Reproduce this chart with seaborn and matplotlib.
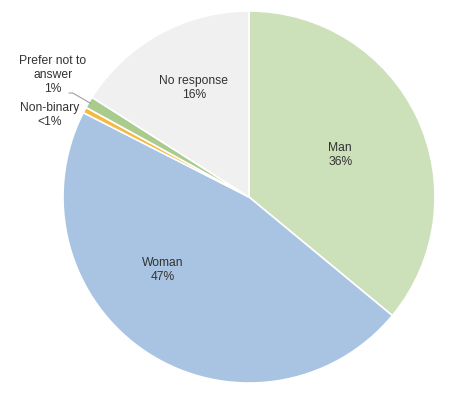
import numpy as np
import matplotlib
matplotlib.use('Agg')
import matplotlib.pyplot as plt
import seaborn as sns

sns.set_style('white')
plt.rcParams['font.family'] = ['Liberation Sans', 'DejaVu Sans']

# Gender split of respondents
categories = ['Man', 'Woman', 'Non-binary', 'Prefer not to\nanswer', 'No response']
values = [36.0, 46.5, 0.5, 1.0, 16.0]
pct_labels = ['36%', '47%', '<1%', '1%', '16%']
colors = ['#CCE0BA', '#A8C4E2', '#F5B942', '#A9CC8E', '#F0F0F0']

fig = plt.figure(figsize=(4.5, 3.93), dpi=100)
ax = fig.add_axes([0.14, 0.0254, 0.8267, 0.9466])

wedges, _ = ax.pie(values, colors=colors, startangle=90, counterclock=False,
                   wedgeprops=dict(edgecolor='white', linewidth=1.2))
ax.set_aspect('equal')
ax.set_xlim(-1.0, 1.0)
ax.set_ylim(-1.0, 1.0)

txt = dict(fontsize=8.7, color='#333333', ha='center', va='center')

# labels inside the big slices
ax.text(0.49, 0.226, f'{categories[0]}\n{pct_labels[0]}', linespacing=1.3, **txt)
ax.text(-0.462, -0.392, f'{categories[1]}\n{pct_labels[1]}', linespacing=1.3, **txt)
ax.text(-0.296, 0.586, f'{categories[4]}\n{pct_labels[4]}', linespacing=1.3, **txt)

# small slices labelled outside
ax.text(-1.07, 0.441, f'{categories[2]}\n{pct_labels[2]}', linespacing=1.3, **txt)
ax.text(-1.054, 0.656, f'{categories[3]}\n{pct_labels[3]}', linespacing=1.25, **txt)

w = wedges[3]
mid = np.deg2rad((w.theta1 + w.theta2) / 2)
ax.annotate('', xy=(np.cos(mid) * 0.99, np.sin(mid) * 0.99),
            xytext=(-0.968, 0.559),
            arrowprops=dict(arrowstyle='-', color='#A0A0A0', lw=0.8,
                            connectionstyle='angle,angleA=0,angleB=150,rad=0',
                            shrinkA=0, shrinkB=0),
            annotation_clip=False)

fig.savefig('out.png', dpi=100, facecolor='white')
